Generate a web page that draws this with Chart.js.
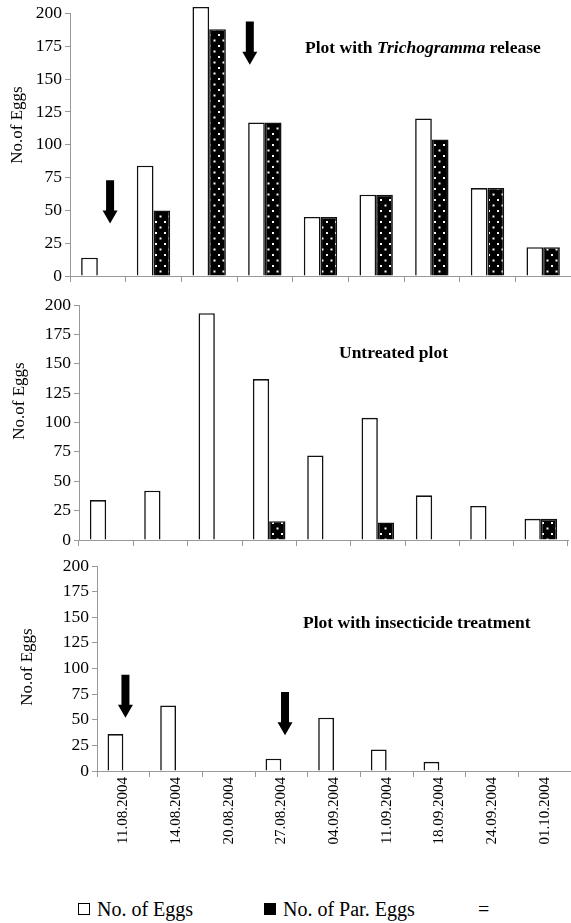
<!DOCTYPE html>
<html><head><meta charset="utf-8">
<script src="https://cdn.jsdelivr.net/npm/chart.js@4"></script>
<style>
body{margin:0;background:#fff;width:571px;height:923px;position:relative;overflow:hidden;font-family:"Liberation Serif","Times New Roman",serif;color:#000;}
canvas{position:absolute;left:0;}
.t{position:absolute;font-weight:bold;font-size:17.5px;white-space:nowrap;line-height:1;transform:translateY(-50%);}
.yt{position:absolute;font-size:17px;white-space:nowrap;line-height:1;transform:translate(-50%,-50%) rotate(-90deg);}
.lg{position:absolute;font-size:20px;white-space:nowrap;line-height:1;transform:translateY(-50%);}
.box{position:absolute;width:10px;height:10px;border:1.5px solid #000;}
</style></head><body>
<canvas id="c1" width="571" height="290" style="top:0px"></canvas>
<canvas id="c2" width="571" height="264" style="top:290px"></canvas>
<canvas id="c3" width="571" height="301" style="top:550px"></canvas>

<div class="t" style="left:305px;top:48px">Plot with <i>Trichogramma</i> release</div>
<div class="t" style="left:339px;top:353px">Untreated plot</div>
<div class="t" style="left:303px;top:623px">Plot with insecticide treatment</div>

<div class="yt" style="left:16px;top:125px">No.of Eggs</div>
<div class="yt" style="left:18px;top:401px">No.of Eggs</div>
<div class="yt" style="left:26px;top:667px">No.of Eggs</div>

<div class="box" style="left:78px;top:903px;background:#fff"></div>
<div class="lg" id="lg1" style="left:97px;top:909px"></div>
<div class="box" style="left:264px;top:903px;background:#000"></div>
<div class="lg" id="lg2" style="left:283px;top:909px"></div>
<div class="lg" style="left:478px;top:909px">=</div>

<script>
// ---- data ----
const categories = ['11.08.2004','14.08.2004','20.08.2004','27.08.2004','04.09.2004','11.09.2004','18.09.2004','24.09.2004','01.10.2004'];
const seriesLabels = ['No. of Eggs','No. of Par. Eggs'];
const yTicks = [0,25,50,75,100,125,150,175,200];

const releaseEggs = [14,84,205,117,45,62,120,67,22];
const releasePar  = [0,50,188,117,45,62,104,67,22];

const untreatedEggs = [34,42,193,137,72,104,38,29,18];
const untreatedPar  = [0,0,0,16,0,15,0,0,18];

const insecticideEggs = [36,64,0,12,52,21,9,0,0];
const insecticidePar  = [0,0,0,0,0,0,0,0,0];

// arrow annotations: category position and value range (data units)
const releaseArrows = [{at:0.22, from:73, to:40},{at:2.73, from:194, to:161}];
const insecticideArrows = [{at:0.04, from:94, to:52},{at:3.07, from:77, to:35}];

document.getElementById('lg1').textContent = seriesLabels[0];
document.getElementById('lg2').textContent = seriesLabels[1];

const FAMILY = '"Liberation Serif","Times New Roman",serif';

function dotPattern(){
  const c = document.createElement('canvas'); c.width = 9; c.height = 11;
  const g = c.getContext('2d');
  g.fillStyle = '#000'; g.fillRect(0,0,9,11);
  g.fillStyle = '#fff';
  g.fillRect(2,1,2,2); g.fillRect(6.5,6.5,2,2);
  return g.createPattern(c,'repeat');
}
const pattern = dotPattern();

function arrowPlugin(list){
  return {id:'arrows', afterDatasetsDraw(chart){
    const {ctx, scales:{x,y}} = chart;
    list.forEach(a=>{
      const cx = x.getPixelForValue(a.at);
      const y0 = y.getPixelForValue(a.from), y1 = y.getPixelForValue(a.to);
      const sw=4, hw=7.5, hh=13;
      ctx.save(); ctx.fillStyle='#000'; ctx.beginPath();
      ctx.moveTo(cx-sw,y0); ctx.lineTo(cx+sw,y0); ctx.lineTo(cx+sw,y1-hh);
      ctx.lineTo(cx+hw,y1-hh); ctx.lineTo(cx,y1); ctx.lineTo(cx-hw,y1-hh);
      ctx.lineTo(cx-sw,y1-hh); ctx.closePath(); ctx.fill(); ctx.restore();
    });
  }};
}

function makeChart(id, eggs, par, o){
  new Chart(document.getElementById(id), {
    type:'bar',
    data:{labels:categories, datasets:[
      {label:seriesLabels[0], data:eggs, backgroundColor:'#fff', borderColor:'#111', borderWidth:1.6, clip:false},
      {label:seriesLabels[1], data:par, backgroundColor:pattern, borderColor:'#111', borderWidth:1.6, clip:false}
    ]},
    options:{
      responsive:false, animation:false, events:[],
      datasets:{bar:{categoryPercentage:0.6, barPercentage:1}},
      layout:{padding:{top:o.top, right:o.right, left:0, bottom:0}},
      plugins:{legend:{display:false}, tooltip:{enabled:false}},
      scales:{
        x:{
          grid:{display:true, drawOnChartArea:false, drawTicks:true, tickLength:6, color:'#999', offset:true},
          border:{color:'#999', width:1},
          ticks:{display:o.showX, minRotation:90, maxRotation:90, autoSkip:false, padding:0,
                 font:{family:FAMILY, size:15}, color:'#000'},
          afterFit:s=>{s.height=o.xh;}
        },
        y:{
          min:0, max:200,
          afterBuildTicks:s=>{s.ticks = yTicks.map(v=>({value:v}));},
          grid:{drawOnChartArea:false, tickLength:5, color:'#999'},
          border:{color:'#999', width:1},
          ticks:{font:{family:FAMILY, size:17.5}, color:'#000', padding:3},
          afterFit:s=>{s.width=o.left;}
        }
      }
    },
    plugins:[arrowPlugin(o.arrows)]
  });
}

makeChart('c1', releaseEggs, releasePar, {top:13, right:0, left:70, xh:14, showX:false, arrows:releaseArrows});
makeChart('c2', untreatedEggs, untreatedPar, {top:15, right:3, left:79, xh:14, showX:false, arrows:[]});
makeChart('c3', insecticideEggs, insecticidePar, {top:16, right:0, left:97, xh:80, showX:true, arrows:insecticideArrows});
</script>
</body></html>
